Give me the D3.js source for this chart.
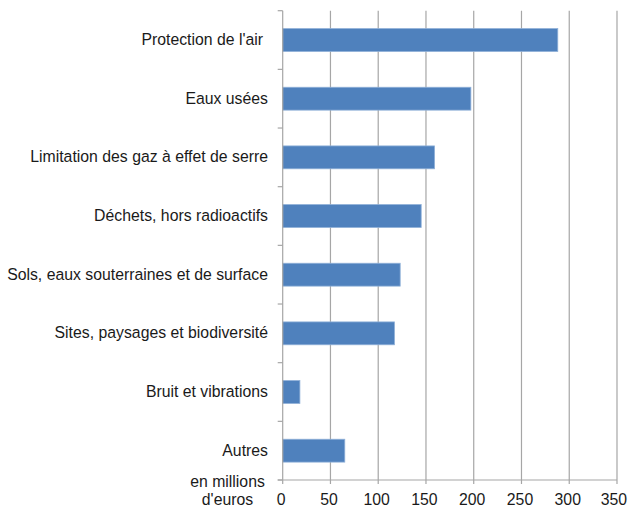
<!DOCTYPE html>
<html><head><meta charset="utf-8">
<script src="https://cdn.jsdelivr.net/npm/d3@7"></script>
<style>body{margin:0;background:#fff}svg{display:block}text{font-family:"Liberation Sans",Arial,sans-serif;fill:#1a1a1a}</style>
</head><body>
<svg id="c" width="628" height="511"></svg>
<script>
const categories = ["Protection de l'air ", "Eaux usées", "Limitation des gaz à effet de serre", "Déchets, hors radioactifs", "Sols, eaux souterraines et de surface", "Sites, paysages et biodiversité", "Bruit et vibrations", "Autres"];
const values = [288, 197, 159, 145, 123, 117, 18, 65];
const xTicks = [0, 50, 100, 150, 200, 250, 300, 350];
const unitLines = ["en millions", "d'euros"];

const svg = d3.select("#c");
const m = {left: 282.7, right: 617, top: 10.7, bottom: 480};
const x = d3.scaleLinear().domain([0, 350]).range([m.left, m.right]);
const y = d3.scaleBand().domain(categories).range([m.top, m.bottom]).paddingInner(0.61).paddingOuter(0.305);
const yb = d3.scaleBand().domain(categories).range([m.top, m.bottom]);
const FS = 16.3, SX = 0.97;

// gridlines
svg.append("g").selectAll("line").data(xTicks.slice(1)).join("line")
  .attr("x1", d => x(d)).attr("x2", d => x(d))
  .attr("y1", m.top).attr("y2", m.bottom + 4)
  .attr("stroke", "#a6a6a6").attr("stroke-width", 1.2);

// bars
svg.append("g").selectAll("rect").data(values).join("rect")
  .attr("x", x(0)).attr("y", (d, i) => y(categories[i]))
  .attr("width", d => x(d) - x(0)).attr("height", y.bandwidth())
  .attr("fill", "#4f81bd").attr("stroke", "#8fb0d8").attr("stroke-width", 0.8);

// y axis line and ticks
const axisC = "#a6a6a6";
svg.append("line").attr("x1", x(0)).attr("x2", x(0)).attr("y1", m.top).attr("y2", m.bottom + 4)
  .attr("stroke", axisC).attr("stroke-width", 1.2);
const yTickPos = categories.map(c => yb(c)).concat([m.bottom]);
svg.append("g").selectAll("line").data(yTickPos).join("line")
  .attr("x1", x(0) - 5).attr("x2", x(0)).attr("y1", d => d).attr("y2", d => d)
  .attr("stroke", axisC).attr("stroke-width", 1.2);
svg.append("line").attr("x1", x(0) - 5).attr("x2", m.right).attr("y1", m.bottom).attr("y2", m.bottom)
  .attr("stroke", axisC).attr("stroke-width", 1.2);

function place(sel, ax, ay) {
  sel.attr("transform", (d, i) => `translate(${ax(d, i)},${ay(d, i)}) scale(${SX},1)`)
     .attr("x", 0).attr("y", 0).attr("font-size", FS);
}

// y labels
svg.append("g").selectAll("text").data(categories).join("text")
  .attr("text-anchor", "end").attr("dominant-baseline", "central")
  .call(place, (d, i) => i === 0 ? 263 : 268, d => yb(d) + yb.bandwidth() / 2 - 1)
  .text(d => d.trimEnd());

// x labels
svg.append("g").selectAll("text").data(xTicks).join("text")
  .attr("text-anchor", (d, i) => i === xTicks.length - 1 ? "end" : "middle")
  .call(place, (d, i) => i === xTicks.length - 1 ? 627 : x(d) - 1.5, () => 505)
  .text(d => d);

// unit label
svg.append("g").selectAll("text").data(unitLines).join("text")
  .attr("text-anchor", "middle")
  .call(place, () => 227.5, (d, i) => 486.5 + i * 18.5)
  .text(d => d);
</script>
</body></html>
